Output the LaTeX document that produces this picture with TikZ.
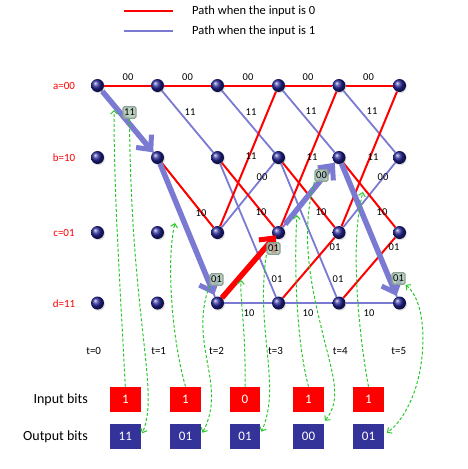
\documentclass[tikz,border=0pt]{standalone}
\usepackage{fontspec}
\setmainfont{Carlito}
\usetikzlibrary{arrows.meta,shadows,calc}
\pgfdeclarelayer{background}
\pgfdeclarelayer{front}
\pgfsetlayers{background,main,front}
\definecolor{pred}{RGB}{255,0,0}
\definecolor{pblue}{RGB}{122,122,210}
\definecolor{pgreen}{RGB}{40,200,40}
\definecolor{ballc}{RGB}{35,35,150}
\definecolor{outbox}{RGB}{51,51,153}
\definecolor{hlbox}{RGB}{172,198,178}
\begin{document}
\begin{tikzpicture}[x=1pt,y=-1pt,
  st/.style={circle,inner sep=0pt,minimum size=13pt,shading=ball,ball color=ballc,
    drop shadow={opacity=0.25,shadow xshift=1pt,shadow yshift=-1.2pt}},
  e0/.style={pred,line width=2pt},
  e1/.style={pblue,line width=1.8pt},
  lbl/.style={font=\fontsize{10.5}{12}\selectfont,inner sep=0pt},
  rowl/.style={font=\fontsize{11}{12}\selectfont,inner sep=0pt,text=pred},
  tl/.style={font=\fontsize{11}{12}\selectfont,inner sep=0pt},
  hl/.style={font=\fontsize{10.5}{12}\selectfont,inner sep=1pt,minimum width=13pt,minimum height=11.5pt,
    rounded corners=1.5pt,draw={rgb,255:red,140;green,160;blue,150},line width=1.2pt,fill=hlbox,fill opacity=0.8,text opacity=1},
  thickb/.style={pblue,line width=5.5pt,-{Straight Barb[length=11pt,width=20pt,line width=5pt]}},
  thickr/.style={pred,line width=5.5pt,-{Straight Barb[length=11pt,width=20pt,line width=5pt]}},
  gd/.style={pgreen,line width=1pt,dash pattern=on 3pt off 2pt,-{Straight Barb[length=3.5pt,width=7pt,line width=1pt]}},
  gdd/.style={pgreen,line width=1pt,dash pattern=on 3pt off 2pt,{Straight Barb[length=3.5pt,width=7pt,line width=1pt]}-{Straight Barb[length=3.5pt,width=7pt,line width=1pt]}},
  inb/.style={fill=pred,minimum width=30.5pt,minimum height=25.5pt,inner sep=0pt,text=white,font=\fontsize{13}{14}\selectfont},
  outb/.style={fill=outbox,minimum width=30.5pt,minimum height=25.5pt,inner sep=0pt,text=white,font=\fontsize{13}{14}\selectfont},
  side/.style={font=\fontsize{14}{15}\selectfont,inner sep=0pt,anchor=east},
  legt/.style={font=\fontsize{12.5}{14}\selectfont,inner sep=0pt,anchor=west}
]
\useasboundingbox (0,0) rectangle (467,469);

% legend
\coordinate (r0) at (124,11); \coordinate (r1) at (173,11);
\coordinate (b0) at (124,31); \coordinate (b1l) at (173,31);
\draw[pred,line width=1.6pt] (r0) -- (r1);
\draw[pblue,line width=1.8pt] (b0) -- (b1l);
\node[legt] (leg0) at (192,11) {Path when the input is 0};
\node[legt] (leg1) at (192,31) {Path when the input is 1};

% row labels
\node[rowl] (ra) at (64,86) {a=00};
\node[rowl] (rb) at (64,158) {b=10};
\node[rowl] (rc) at (64,233) {c=01};
\node[rowl] (rd) at (64,304) {d=11};

% states
\foreach \i/\x in {0/97.5,1/157.5,2/217.5,3/278.5,4/339,5/399.5}{
  \node[st] (a\i) at (\x,85.5) {};
  \node[st] (b\i) at (\x,157.5) {};
  \node[st] (c\i) at (\x,232.5) {};
  \node[st] (d\i) at (\x,303) {};
}

% time labels
\node[tl] (t0) at (93.7,351) {t=0};
\node[tl] (t1) at (158.7,351) {t=1};
\node[tl] (t2) at (216.5,351) {t=2};
\node[tl] (t3) at (275.5,351) {t=3};
\node[tl] (t4) at (340.3,351) {t=4};
\node[tl] (t5) at (398.8,351) {t=5};

% trellis edges
\begin{pgfonlayer}{background}
\draw[e0] (a0) -- (a1);
\draw[e1] (a0) -- (b1);
\draw[e0] (a1) -- (a2);
\draw[e1] (a1) -- (b2);
\draw[e0] (b1) -- (c2);
\draw[e1] (b1) -- (d2);
\foreach \i/\j in {2/3,3/4,4/5}{
  \draw[e1] (a\i) -- (b\j);
  \draw[e1] (b\i) -- (d\j);
  \draw[e1] (c\i) -- (b\j);
  \draw[e1] (d\i) -- (d\j);
  \draw[e0] (a\i) -- (a\j);
  \draw[e0] (b\i) -- (c\j);
  \draw[e0] (c\i) -- (a\j);
  \draw[e0] (d\i) -- (c\j);
}
\end{pgfonlayer}

% edge labels
\node[lbl] (l00a) at (128,77) {00};
\node[lbl] (l00b) at (187.5,77) {00};
\node[lbl] (l00c) at (248,77) {00};
\node[lbl] (l00d) at (308,77) {00};
\node[lbl] (l00e) at (368.5,77) {00};
\node[lbl] (l11a) at (190,112) {11};
\node[lbl] (l11b) at (251,112) {11};
\node[lbl] (l11c) at (311,111) {11};
\node[lbl] (l11d) at (372,111) {11};
\node[lbl] (l11e) at (251,156) {11};
\node[lbl] (l11f) at (312,157) {11};
\node[lbl] (l11g) at (373,157) {11};
\node[lbl] (l00f) at (262,177) {00};
\node[lbl] (l00g) at (383,177) {00};
\node[lbl] (l10a) at (201,213) {10};
\node[lbl] (l10b) at (261,212) {10};
\node[lbl] (l10c) at (321,212) {10};
\node[lbl] (l10d) at (382,212) {10};
\node[lbl] (l01a) at (335,247) {01};
\node[lbl] (l01b) at (394,247) {01};
\node[lbl] (l01c) at (277,279) {01};
\node[lbl] (l01d) at (338,279) {01};
\node[lbl] (l10e) at (249,313) {10};
\node[lbl] (l10f) at (308,313) {10};
\node[lbl] (l10g) at (369,313) {10};

% highlighted path
\draw[thickb,shorten <=1pt] (a0) -- (b1);
\draw[thickb,shorten >=2pt] (b1) -- (d2);
\draw[thickr,shorten >=-3pt] (d2) -- (c3);
\draw[thickb,shorten <=4pt] (c3) -- (b4);
\draw[thickb,shorten >=1pt] (b4) -- (d5);

% highlighted labels
\node[hl] (h1) at (129.5,112.5) {11};
\node[hl] (h2) at (216.5,279.5) {01};
\node[hl] (h3) at (273.5,248.5) {01};
\node[hl] (h4) at (321.5,175.5) {00};
\node[hl] (h5) at (398.5,278.5) {01};

% input / output bits
\node[side] (inl) at (88,400) {Input bits};
\node[side] (outl) at (88,437) {Output bits};
\foreach \k/\x/\vi/\vo in {1/125.3/1/11,2/185.5/1/01,3/245/0/01,4/308.5/1/00,5/368.5/1/01}{
  \node[inb] (in\k) at (\x,399.5) {\vi};
  \node[outb] (out\k) at (\x,436.7) {\vo};
}

% green dashed links
\begin{pgfonlayer}{front}
\coordinate (g1) at (114,110);
\coordinate (g2) at (175,223);
\coordinate (g3) at (241,280);
\coordinate (g4) at (297,215);
\coordinate (g5) at (363,192);
\draw[gd] (in1.north) .. controls (121,300) and (114,200) .. (g1);
\draw[gd] (in2.north) .. controls (172,340) and (166,260) .. (g2);
\draw[gd] (in3.north) .. controls (246,330) and (240,300) .. (g3);
\draw[gd] (in4.north) .. controls (296,340) and (294,260) .. (g4);
\draw[gd] (in5.north) .. controls (358,330) and (350,240) .. (g5);
\draw[gd] (h1.south) .. controls (131,320) and (160,392) .. ($(out1.east)+(1.5,-3.5)$);
\draw[gd] (h2.south west) .. controls (188,345) and (228,385) .. ($(out2.east)+(1.5,-4)$);
\draw[gd] (h3.south west) .. controls (255,330) and (282,385) .. ($(out3.east)+(1,-5)$);
\draw[gd] (h4.south west) .. controls (298,240) and (315,300) .. (323,335) .. controls (333,375) and (342,400) .. ($(out4.north east)+(1,-3)$);
\draw[gdd] (h5.south east) .. controls (425,300) and (428,350) .. (415,390) .. controls (408,410) and (398,425) .. ($(out5.east)+(3,-4)$);
\end{pgfonlayer}
\end{tikzpicture}
\end{document}
